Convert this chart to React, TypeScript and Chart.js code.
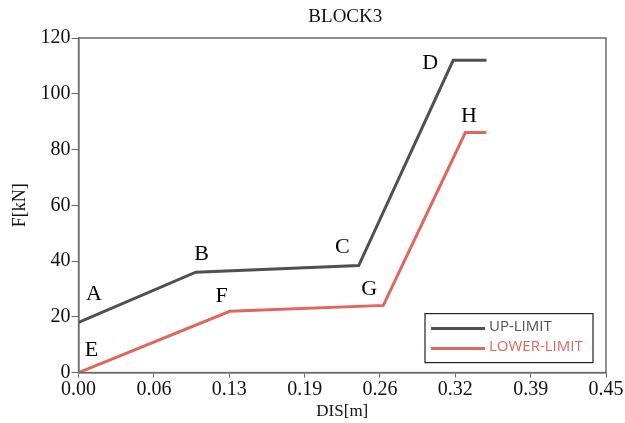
import React, { useEffect, useRef } from "react";
import { Chart, registerables } from "chart.js";

Chart.register(...registerables);

const TITLE = "BLOCK3";
const X_LABEL = "DIS[m]";
const Y_LABEL = "F[kN]";

const upperX = [0, 0.1, 0.239, 0.3196, 0.348];
const upperY = [18, 36, 38.4, 112, 112];
const lowerX = [0, 0.129, 0.26, 0.33, 0.348];
const lowerY = [0, 22, 24.1, 86.1, 86.1];

const seriesNames = ["UP-LIMIT", "LOWER-LIMIT"];
const seriesColors = ["#505050", "#e0665e"];

const xTickValues = [0, 0.45 / 7, (0.45 * 2) / 7, (0.45 * 3) / 7, (0.45 * 4) / 7, (0.45 * 5) / 7, (0.45 * 6) / 7, 0.45];

const pointLetters = ["A", "B", "C", "D", "E", "F", "G", "H"];
const letterX = [0.013, 0.105, 0.225, 0.3, 0.011, 0.122, 0.248, 0.333];
const letterY = [28, 42.4, 45, 111, 8, 27.3, 30, 92];

const SERIF = "'Liberation Serif', 'Times New Roman', serif";

const decorPlugin = {
  id: "decor",
  afterDatasetsDraw(chart: any) {
    const { ctx, chartArea, scales } = chart;
    ctx.save();
    // plot border
    ctx.strokeStyle = "#6a6a6a";
    ctx.lineWidth = 1.5;
    ctx.strokeRect(chartArea.left, chartArea.top, chartArea.right - chartArea.left, chartArea.bottom - chartArea.top);
    // title
    ctx.fillStyle = "#111";
    ctx.font = `19px ${SERIF}`;
    ctx.textAlign = "center";
    ctx.textBaseline = "middle";
    ctx.fillText(TITLE, (chartArea.left + chartArea.right) / 2 + 3, 17);
    // letters
    ctx.fillStyle = "#000";
    ctx.font = `22px ${SERIF}`;
    pointLetters.forEach((l, i) => {
      ctx.fillText(l, scales.x.getPixelForValue(letterX[i]), scales.y.getPixelForValue(letterY[i]));
    });
    // legend
    const lx = chartArea.right - 181;
    const ly = chartArea.bottom - 59;
    const lw = 168;
    const lh = 49;
    ctx.fillStyle = "#fff";
    ctx.fillRect(lx, ly, lw, lh);
    ctx.strokeStyle = "#222";
    ctx.lineWidth = 1.2;
    ctx.strokeRect(lx, ly, lw, lh);
    ctx.font = "15px 'Open Sans', 'DejaVu Sans', sans-serif";
    ctx.textAlign = "left";
    seriesNames.forEach((n, i) => {
      const yy = ly + 15 + i * 20;
      ctx.strokeStyle = seriesColors[i];
      ctx.lineWidth = 3;
      ctx.beginPath();
      ctx.moveTo(lx + 6, yy);
      ctx.lineTo(lx + 60, yy);
      ctx.stroke();
      ctx.fillStyle = seriesColors[i];
      ctx.fillText(n, lx + 64, yy - 2);
    });
    ctx.restore();
  },
};

export default function App() {
  const ref = useRef<HTMLCanvasElement>(null);
  useEffect(() => {
    document.body.style.margin = "0";
    const chart = new Chart(ref.current!, {
      type: "line",
      data: {
        datasets: [
          {
            label: seriesNames[0],
            data: upperX.map((x, i) => ({ x, y: upperY[i] })),
            borderColor: seriesColors[0],
            borderWidth: 3,
            pointRadius: 0,
            tension: 0,
          },
          {
            label: seriesNames[1],
            data: lowerX.map((x, i) => ({ x, y: lowerY[i] })),
            borderColor: seriesColors[1],
            borderWidth: 3,
            pointRadius: 0,
            tension: 0,
          },
        ],
      },
      options: {
        animation: false,
        responsive: false,
        layout: { padding: { left: 9, right: 19, top: 38, bottom: 1 } },
        plugins: {
          legend: { display: false },
          tooltip: { enabled: false },
          title: { display: false },
        },
        scales: {
          x: {
            type: "linear",
            min: 0,
            max: 0.45,
            afterBuildTicks: (axis: any) => {
              axis.ticks = xTickValues.map((v) => ({ value: v }));
            },
            ticks: {
              color: "#111",
              font: { family: SERIF, size: 20 },
              padding: 0,
              maxRotation: 0,
              autoSkip: false,
              callback: (v: any) => Number(v).toFixed(2),
            },
            grid: { drawOnChartArea: false, drawTicks: true, tickLength: 5, color: "#6a6a6a" },
            border: { color: "#6a6a6a", width: 1.5 },
            title: {
              display: true,
              text: X_LABEL,
              color: "#111",
              font: { family: SERIF, size: 17 },
              padding: { top: 0, bottom: 0 },
            },
          },
          y: {
            min: 0,
            max: 120,
            ticks: {
              stepSize: 20,
              color: "#111",
              font: { family: SERIF, size: 20 },
              padding: 1,
            },
            grid: { drawOnChartArea: false, drawTicks: true, tickLength: 7, color: "#6a6a6a" },
            border: { color: "#6a6a6a", width: 1.5 },
            title: {
              display: true,
              text: Y_LABEL,
              color: "#111",
              font: { family: SERIF, size: 18 },
              padding: { top: 0, bottom: 9 },
            },
          },
        },
      },
      plugins: [decorPlugin],
    } as any);
    return () => chart.destroy();
  }, []);
  return <canvas ref={ref} width={625} height={423} style={{ display: "block" }} />;
}
